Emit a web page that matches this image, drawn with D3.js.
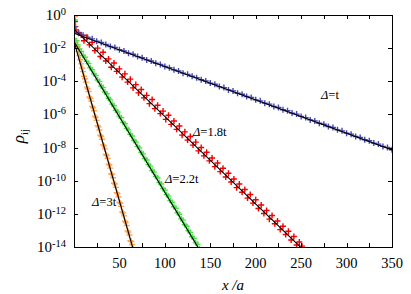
<!DOCTYPE html>
<html>
<head>
<meta charset="utf-8">
<script src="https://cdn.jsdelivr.net/npm/d3@7"></script>
<style>
body { margin: 0; background: #fff; }
</style>
</head>
<body>
<script>
var width = 411;
var height = 294;
var margin = {left: 74, right: 19, top: 15, bottom: 47};
var font = "Liberation Serif";

// data: log10(rho_ij) sampled along x/a
var blueStart = 5, blueStep = 5;
var blueLog10 = [-1.10, -1.22, -1.36, -1.44, -1.58, -1.66, -1.78, -1.90, -1.96, -2.10,
    -2.17, -2.31, -2.37, -2.51, -2.58, -2.71, -2.78, -2.91, -2.98, -3.11,
    -3.18, -3.31, -3.38, -3.51, -3.58, -3.70, -3.78, -3.91, -3.98, -4.11,
    -4.18, -4.32, -4.38, -4.52, -4.58, -4.72, -4.78, -4.92, -4.98, -5.12,
    -5.18, -5.32, -5.38, -5.52, -5.58, -5.72, -5.78, -5.92, -5.98, -6.12,
    -6.19, -6.33, -6.39, -6.53, -6.59, -6.73, -6.79, -6.93, -6.99, -7.13,
    -7.19, -7.33, -7.39, -7.53, -7.59, -7.73, -7.79, -7.93, -7.99, -8.13];

var redStart = 2, redStep = 3;
var redLog10 = [-0.90, -1.05, -1.20, -1.55, -1.35, -1.80, -1.65, -2.15, -2.00, -2.50,
    -2.25, -2.78, -2.65, -3.15, -2.90, -3.40, -3.25, -3.75, -3.55, -4.05,
    -3.87, -4.40, -4.20, -4.70, -4.50, -5.00, -4.85, -5.35, -5.10, -5.65,
    -5.45, -5.95, -5.80, -6.30, -6.05, -6.60, -6.40, -6.90, -6.70, -7.25,
    -7.05, -7.55, -7.33, -7.85, -7.67, -8.20, -8.00, -8.50, -8.28, -8.80,
    -8.63, -9.15, -8.93, -9.45, -9.25, -9.78, -9.55, -10.08, -9.90, -10.42,
    -10.20, -10.70, -10.53, -11.05, -10.83, -11.35, -11.15, -11.68, -11.47, -11.98,
    -11.80, -12.32, -12.10, -12.60, -12.43, -12.95, -12.75, -13.25, -13.05, -13.58,
    -13.37, -13.88, -13.70, -13.95];

var greenStart = 2, greenStep = 2;
var greenLog10 = [-1.55, -1.80, -2.05, -2.20, -2.45, -2.55, -2.80, -2.92, -3.18, -3.30,
    -3.55, -3.66, -3.92, -4.02, -4.28, -4.38, -4.65, -4.75, -5.02, -5.12,
    -5.38, -5.48, -5.75, -5.85, -6.10, -6.20, -6.48, -6.56, -6.84, -6.93,
    -7.20, -7.30, -7.57, -7.66, -7.93, -8.02, -8.30, -8.38, -8.66, -8.75,
    -9.02, -9.12, -9.39, -9.48, -9.75, -9.84, -10.11, -10.20, -10.48, -10.57,
    -10.84, -10.93, -11.20, -11.30, -11.57, -11.66, -11.93, -12.02, -12.30, -12.38,
    -12.66, -12.75, -13.02, -13.12, -13.38, -13.48, -13.75, -13.84, -14.10, -14.20];

var orangeStart = 1, orangeStep = 1;
var orangeLog10 = [-0.10, -0.70, -1.55, -1.90, -2.20, -2.45, -2.70, -2.95, -3.20, -3.42,
    -3.70, -3.85, -4.05, -4.35, -4.45, -4.62, -4.95, -5.02, -5.20, -5.52,
    -5.60, -5.78, -6.10, -6.18, -6.36, -6.68, -6.75, -6.94, -7.26, -7.32,
    -7.50, -7.84, -7.90, -8.08, -8.42, -8.48, -8.66, -9.00, -9.05, -9.24,
    -9.58, -9.62, -9.82, -10.15, -10.20, -10.40, -10.72, -10.78, -10.98, -11.30,
    -11.36, -11.55, -11.88, -11.94, -12.12, -12.45, -12.52, -12.70, -13.03, -13.10,
    -13.28, -13.62, -13.66, -13.86, -14.10, -14.20];

// first points near x = 1
var firstPoints = [[1, -0.7, "blue"], [1, -0.4, "red"], [1, -0.3, "green"]];

// fitted straight lines, [x, log10] endpoints
var fitBlue = [[0, -1.10], [350, -8.14]];
var fitRed = [[0, -0.85], [252, -14.15]];
var fitGreen = [[0, -1.60], [140, -14.34]];
var fitOrange = [[0, -1.60], [66, -14.30]];

var xTicks = [25, 50, 75, 100, 125, 150, 175, 200, 225, 250, 275, 300, 325];
var xLabels = [50, 100, 150, 200, 250, 300, 350];
var yExponents = [0, -2, -4, -6, -8, -10, -12, -14];

var labels = [
    {name: "=t", x: 321, y: 99},
    {name: "=1.8t", x: 193, y: 136},
    {name: "=2.2t", x: 165, y: 183},
    {name: "=3t", x: 92, y: 206}
];

var colors = {blue: "#4646b4", red: "#f20000", green: "#4ce04c", orange: "#ffa552"};

var svg = d3.select("body").append("svg")
    .attr("width", width)
    .attr("height", height);

var x = d3.scaleLinear().domain([0, 350]).range([margin.left, width - margin.right]);
var y = d3.scaleLog().domain([1e-14, 1]).range([height - margin.bottom, margin.top]);

svg.append("clipPath").attr("id", "clip")
    .append("rect")
    .attr("x", margin.left).attr("y", margin.top)
    .attr("width", x(350) - x(0)).attr("height", y(1e-14) - y(1));

var plot = svg.append("g").attr("clip-path", "url(#clip)");

function series(start, step, vals) {
    return vals.map(function(v, i) { return [start + i * step, v]; });
}

var sets = [
    {color: "orange", pts: series(orangeStart, orangeStep, orangeLog10)},
    {color: "green", pts: series(greenStart, greenStep, greenLog10)},
    {color: "red", pts: series(redStart, redStep, redLog10)},
    {color: "blue", pts: series(blueStart, blueStep, blueLog10)}
];
firstPoints.forEach(function(p) {
    sets.forEach(function(s) { if (s.color === p[2]) s.pts.unshift([p[0], p[1]]); });
});

var s = 3;
sets.forEach(function(set) {
    plot.append("g")
        .selectAll("path")
        .data(set.pts)
        .enter().append("path")
            .attr("d", function(d) {
                var px = x(d[0]), py = y(Math.pow(10, d[1]));
                return "M" + (px - s) + "," + py + "H" + (px + s) +
                    "M" + px + "," + (py - s) + "V" + (py + s);
            })
            .attr("stroke", colors[set.color])
            .attr("stroke-width", 1.4)
            .attr("fill", "none");
});

var line = d3.line()
    .x(function(d) { return x(d[0]); })
    .y(function(d) { return y(Math.pow(10, d[1])); });

[fitBlue, fitRed, fitGreen, fitOrange].forEach(function(f) {
    plot.append("path")
        .attr("d", line(f))
        .attr("stroke", "#000")
        .attr("stroke-width", 1.1)
        .attr("fill", "none");
});

// frame
svg.append("rect")
    .attr("x", x(0) + 0.5).attr("y", y(1) + 0.5)
    .attr("width", x(350) - x(0)).attr("height", y(1e-14) - y(1))
    .attr("fill", "none").attr("stroke", "#000").attr("stroke-width", 1);

var tk = 4;
var ticks = svg.append("g").attr("stroke", "#000").attr("stroke-width", 1);
xTicks.forEach(function(t) {
    var px = Math.round(x(t)) + 0.5;
    ticks.append("line").attr("x1", px).attr("x2", px)
        .attr("y1", y(1e-14)).attr("y2", y(1e-14) - tk);
    ticks.append("line").attr("x1", px).attr("x2", px)
        .attr("y1", y(1)).attr("y2", y(1) + tk);
});
yExponents.forEach(function(e) {
    var py = Math.round(y(Math.pow(10, e))) + 0.5;
    ticks.append("line").attr("x1", x(0)).attr("x2", x(0) + tk)
        .attr("y1", py).attr("y2", py);
    ticks.append("line").attr("x1", x(350)).attr("x2", x(350) - tk)
        .attr("y1", py).attr("y2", py);
});

svg.append("g").selectAll("text")
    .data(xLabels)
    .enter().append("text")
        .attr("x", function(d) { return x(d); })
        .attr("y", 268)
        .attr("text-anchor", "middle")
        .attr("font-family", font)
        .attr("font-size", 14.5)
        .text(function(d) { return d; });

var yl = svg.append("g").selectAll("text")
    .data(yExponents)
    .enter().append("text")
        .attr("x", 66)
        .attr("y", function(d) { return y(Math.pow(10, d)) + 5; })
        .attr("text-anchor", "end")
        .attr("font-family", font)
        .attr("font-size", 15);
yl.append("tspan").text("10");
yl.append("tspan")
    .attr("dy", -5)
    .attr("font-size", 10.5)
    .text(function(d) { return d === 0 ? "0" : "-" + (-d); });

var yt = svg.append("text")
    .attr("transform", "translate(24,136) rotate(-90)")
    .attr("text-anchor", "middle")
    .attr("font-family", font)
    .attr("font-size", 17);
yt.append("tspan").attr("font-style", "italic").text("ρ");
yt.append("tspan").attr("dy", 4).attr("font-size", 11).text("ij");

svg.append("text")
    .attr("x", x(175))
    .attr("y", 290)
    .attr("text-anchor", "middle")
    .attr("font-family", font)
    .attr("font-size", 15)
    .attr("font-style", "italic")
    .text("x /a");

var lt = svg.append("g").selectAll("text")
    .data(labels)
    .enter().append("text")
        .attr("x", function(d) { return d.x; })
        .attr("y", function(d) { return d.y; })
        .attr("font-family", font)
        .attr("font-size", 12.5);
lt.append("tspan").attr("font-style", "italic").text("Δ");
lt.append("tspan").text(function(d) { return d.name; });
</script>
</body>
</html>
